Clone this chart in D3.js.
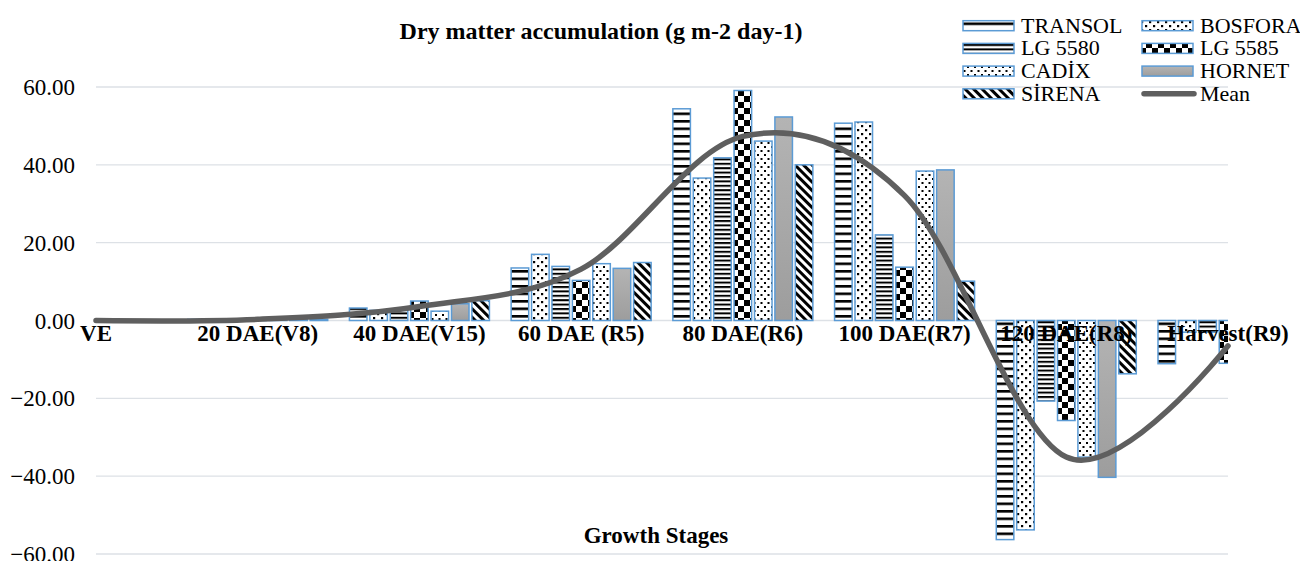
<!DOCTYPE html>
<html>
<head>
<meta charset="utf-8">
<script src="https://cdn.jsdelivr.net/npm/d3@7"></script>
<style>
  body { margin: 0; background: #fff; }
  text { font-family: "Liberation Serif", "Times New Roman", serif; fill: #000; }
</style>
</head>
<body>
<div id="chart"></div>
<script>
// categories on the x axis
const stages = ["VE", "20 DAE(V8)", "40 DAE(V15)", "60 DAE (R5)", "80 DAE(R6)", "100 DAE(R7)", "120 DAE(R8)", "Harvest(R9)"];
const varieties = ["TRANSOL", "BOSFORA", "LG 5580", "LG 5585", "CADİX", "HORNET", "SİRENA"];

// values per variety (g m-2 day-1)
const transol = [0, 0.3, 3.2, 13.5, 54.4, 50.7, -56.3, -11.1];
const bosfora = [0, 0.3, 2.6, 17.0, 36.6, 51.0, -53.8, -3.0];
const lg5580  = [0, 0.3, 2.6, 13.9, 41.8, 22.0, -20.7, -3.0];
const lg5585  = [0, 0.4, 5.0, 10.3, 59.1, 13.7, -25.7, -11.0];
const cadix   = [0, 0.2, 2.4, 14.6, 46.1, 38.4, -35.1, -5.0];
const hornet  = [0, 0.3, 4.3, 13.4, 52.3, 38.7, -40.3, -4.0];
const sirena  = [0, 0.3, 5.1, 14.9, 40.0, 10.1, -13.7, -6.0];
const meanVals = [0, 0.3, 3.6, 13.2, 47.3, 32.1, -35.1, -6.5];

const yTicks = [-60, -40, -20, 0, 20, 40, 60];

const seriesVals = [transol, bosfora, lg5580, lg5585, cadix, hornet, sirena];
const patternIds = ["p-transol", "p-bosfora", "p-lg5580", "p-lg5585", "p-cadix", "g-hornet", "p-sirena"];

const width = 1300, height = 561;
const left = 96, right = 1228;

const svg = d3.select("#chart").append("svg")
    .attr("width", width)
    .attr("height", height);

// ----- patterns (Excel style fills)
const defs = svg.append("defs");

function pattern(id, w, h) {
    let p = defs.append("pattern")
        .attr("id", id)
        .attr("patternUnits", "userSpaceOnUse")
        .attr("width", w)
        .attr("height", h);
    p.append("rect").attr("width", w).attr("height", h).attr("fill", "#fff");
    return p;
}

// wide horizontal
pattern("p-transol", 8, 7.5)
    .append("rect").attr("width", 8).attr("height", 2.6).attr("fill", "#000");
// narrow horizontal
pattern("p-lg5580", 8, 4.4)
    .append("rect").attr("width", 8).attr("height", 2).attr("fill", "#000");
// sparse dots
let pb = pattern("p-bosfora", 8, 8);
pb.append("rect").attr("x", 1).attr("y", 1).attr("width", 2.2).attr("height", 2.2).attr("fill", "#000");
pb.append("rect").attr("x", 5).attr("y", 5).attr("width", 2.2).attr("height", 2.2).attr("fill", "#000");
let pc = pattern("p-cadix", 7, 8);
pc.append("rect").attr("x", 1).attr("y", 2).attr("width", 2).attr("height", 2).attr("fill", "#000");
pc.append("rect").attr("x", 4.5).attr("y", 6).attr("width", 2).attr("height", 2).attr("fill", "#000");
// large checkerboard
let pk = pattern("p-lg5585", 12, 12);
pk.append("rect").attr("width", 6).attr("height", 6).attr("fill", "#000");
pk.append("rect").attr("x", 6).attr("y", 6).attr("width", 6).attr("height", 6).attr("fill", "#000");
// wide downward diagonal
let ps = pattern("p-sirena", 6, 6).attr("patternTransform", "rotate(-45)");
ps.append("rect").attr("width", 3).attr("height", 6).attr("fill", "#000");

// grey gradient for HORNET
let grad = defs.append("linearGradient")
    .attr("id", "g-hornet")
    .attr("x1", "0%").attr("y1", "0%")
    .attr("x2", "0%").attr("y2", "100%");
grad.append("stop").attr("offset", "0%").attr("stop-color", "#b4b4b4");
grad.append("stop").attr("offset", "100%").attr("stop-color", "#9d9d9d");

defs.append("clipPath").attr("id", "plot-clip")
    .append("rect")
    .attr("x", left).attr("y", 0)
    .attr("width", right - left).attr("height", height);

// ----- scales
const x = d3.scalePoint()
    .domain(stages)
    .range([left, right]);

const x1 = d3.scaleBand()
    .domain(varieties)
    .range([-70, 70])
    .paddingInner(0.14);

const y = d3.scaleLinear()
    .domain([-60, 60])
    .range([554, 87]);

// ----- gridlines + y labels
svg.append("g")
    .selectAll("line")
    .data(yTicks)
    .enter().append("line")
    .attr("x1", left).attr("x2", right)
    .attr("y1", d => y(d)).attr("y2", d => y(d))
    .attr("stroke", "#dde1e6")
    .attr("stroke-width", 1.3);

svg.append("g")
    .selectAll("text")
    .data(yTicks)
    .enter().append("text")
    .attr("x", 75)
    .attr("y", d => y(d) + 8)
    .attr("text-anchor", "end")
    .style("font-size", "23px")
    .text(d => d3.format(".2f")(d));

// ----- bars
const bars = svg.append("g").attr("clip-path", "url(#plot-clip)");

varieties.forEach(function(v, si) {
    bars.append("g")
        .selectAll("rect")
        .data(seriesVals[si])
        .enter().append("rect")
        .attr("x", (d, i) => x(stages[i]) + x1(v))
        .attr("width", x1.bandwidth())
        .attr("y", d => y(Math.max(0, d)))
        .attr("height", d => Math.abs(y(d) - y(0)))
        .attr("fill", "url(#" + patternIds[si] + ")")
        .attr("stroke", "#5b9bd5")
        .attr("stroke-width", 1.5);
});

// ----- category labels (drawn over bars like excel)
svg.append("g")
    .selectAll("text")
    .data(stages)
    .enter().append("text")
    .attr("x", d => x(d))
    .attr("y", 341)
    .attr("text-anchor", "middle")
    .style("font-size", "23px")
    .style("font-weight", "bold")
    .text(d => d);

// ----- mean line (smoothed)
const line = d3.line()
    .x((d, i) => x(stages[i]))
    .y(d => y(d))
    .curve(d3.curveCardinal.tension(0));

svg.append("path")
    .datum(meanVals)
    .attr("d", line)
    .attr("fill", "none")
    .attr("stroke", "#5f5f5f")
    .attr("stroke-width", 5.5)
    .attr("stroke-linecap", "round");

// ----- titles
svg.append("text")
    .attr("x", 601).attr("y", 39)
    .attr("text-anchor", "middle")
    .style("font-size", "24px")
    .style("font-weight", "bold")
    .text("Dry matter accumulation (g m-2 day-1)");

svg.append("text")
    .attr("x", 656).attr("y", 543)
    .attr("text-anchor", "middle")
    .style("font-size", "23px")
    .style("font-weight", "bold")
    .text("Growth Stages");

// ----- legend, two columns
const legendItems = varieties.concat(["Mean"]);
const legend = svg.append("g");

legendItems.forEach(function(name, i) {
    let col = i % 2, row = Math.floor(i / 2);
    let sx = col === 0 ? 963 : 1142;
    let cy = 25.7 + row * 22.7;
    if (name === "Mean") {
        legend.append("line")
            .attr("x1", sx + 2).attr("x2", sx + 52)
            .attr("y1", cy).attr("y2", cy)
            .attr("stroke", "#5f5f5f")
            .attr("stroke-width", 5.5)
            .attr("stroke-linecap", "round");
    } else {
        legend.append("rect")
            .attr("x", sx).attr("y", cy - 5)
            .attr("width", 51).attr("height", 10)
            .attr("fill", "url(#" + patternIds[i] + ")")
            .attr("stroke", "#5b9bd5")
            .attr("stroke-width", 1.5);
    }
    legend.append("text")
        .attr("x", sx + 58)
        .attr("y", cy + 7)
        .style("font-size", "22px")
        .text(name);
});
</script>
</body>
</html>
